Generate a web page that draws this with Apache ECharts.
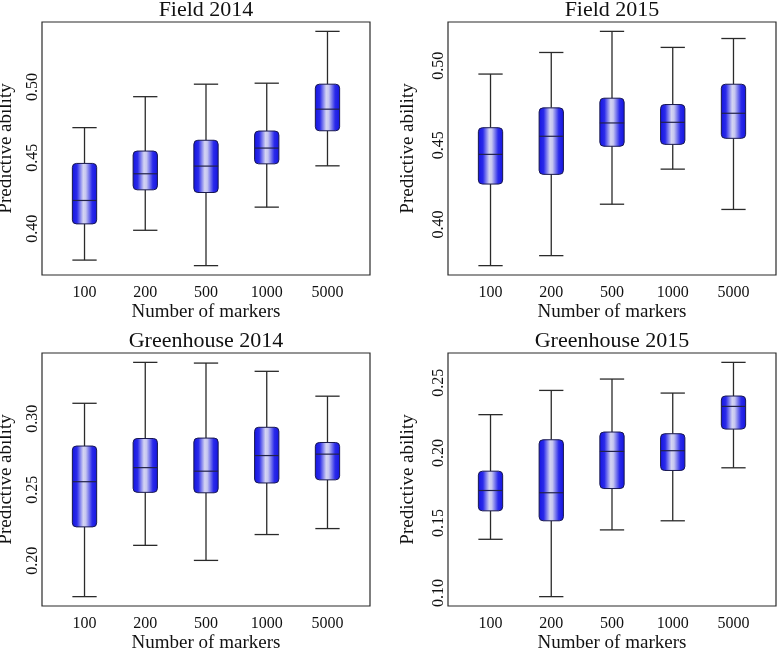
<!DOCTYPE html>
<html><head><meta charset="utf-8">
<script src="https://cdn.jsdelivr.net/npm/echarts@6/dist/echarts.min.js"></script>
<style>html,body{margin:0;padding:0;background:#fff}#c{width:777px;height:649px}</style>
</head><body><div id="c"></div>
<script>
const categories = ['100', '200', '500', '1000', '5000'];
// each row: [lower whisker, Q1, median, Q3, upper whisker]
const field2014 = [
  [0.3780, 0.4035, 0.4200, 0.4461, 0.4713],
  [0.3990, 0.4275, 0.4388, 0.4548, 0.4931],
  [0.3741, 0.4256, 0.4442, 0.4624, 0.5019],
  [0.4153, 0.4458, 0.4569, 0.4689, 0.5026],
  [0.4444, 0.4691, 0.4843, 0.5019, 0.5391]
];
const field2015 = [
  [0.3741, 0.4255, 0.4442, 0.4610, 0.4948],
  [0.3804, 0.4316, 0.4556, 0.4735, 0.5084],
  [0.4128, 0.4493, 0.4640, 0.4796, 0.5217],
  [0.4349, 0.4505, 0.4644, 0.4756, 0.5116],
  [0.4095, 0.4543, 0.4701, 0.4884, 0.5172]
];
const greenhouse2014 = [
  [0.1747, 0.2238, 0.2556, 0.2807, 0.3108],
  [0.2108, 0.2481, 0.2655, 0.2860, 0.3396],
  [0.2002, 0.2478, 0.2630, 0.2863, 0.3391],
  [0.2184, 0.2547, 0.2740, 0.2939, 0.3333],
  [0.2226, 0.2569, 0.2750, 0.2832, 0.3158]
];
const greenhouse2015 = [
  [0.1384, 0.1587, 0.1732, 0.1870, 0.2273],
  [0.0975, 0.1516, 0.1716, 0.2094, 0.2446],
  [0.1451, 0.1746, 0.2011, 0.2149, 0.2527],
  [0.1516, 0.1875, 0.2016, 0.2137, 0.2427],
  [0.1894, 0.2170, 0.2332, 0.2406, 0.2646]
];
const titles = ['Field 2014', 'Field 2015', 'Greenhouse 2014', 'Greenhouse 2015'];
const ticksField2014 = [0.40, 0.45, 0.50];
const ticksField2015 = [0.40, 0.45, 0.50];
const ticksGreenhouse2014 = [0.20, 0.25, 0.30];
const ticksGreenhouse2015 = [0.10, 0.15, 0.20, 0.25];
const xLabel = 'Number of markers';
const yLabel = 'Predictive ability';

const panelData = [field2014, field2015, greenhouse2014, greenhouse2015];
const panelTicks = [ticksField2014, ticksField2015, ticksGreenhouse2014, ticksGreenhouse2015];
const frames = [
  {left: 42, top: 22, nameGap: 26},
  {left: 448, top: 22, nameGap: 30},
  {left: 42, top: 353, nameGap: 26},
  {left: 448, top: 353, nameGap: 30}
];
const W = 328, H = 253;
const FONT = '"Liberation Serif", "Times New Roman", serif';

const chart = echarts.init(document.getElementById('c'), null, {renderer: 'canvas'});

const grad = new echarts.graphic.LinearGradient(0, 0, 1, 0, [
  {offset: 0, color: '#1414e0'},
  {offset: 0.2, color: '#2a2aea'},
  {offset: 0.45, color: '#d4d4f2'},
  {offset: 0.55, color: '#c6c6f0'},
  {offset: 0.8, color: '#2a2aea'},
  {offset: 1, color: '#1414e0'}
]);

function renderBox(params, api) {
  const x = api.value(0);
  const lo = api.coord([x, api.value(1)]);
  const q1 = api.coord([x, api.value(2)]);
  const md = api.coord([x, api.value(3)]);
  const q3 = api.coord([x, api.value(4)]);
  const hi = api.coord([x, api.value(5)]);
  const bw = api.size([0.4, 0], [x, 0])[0];
  const h = bw / 2, cx = md[0];
  const ws = {stroke: '#2a2a2a', lineWidth: 1.3};
  return {type: 'group', children: [
    {type: 'line', shape: {x1: cx, y1: hi[1], x2: cx, y2: q3[1]}, style: ws},
    {type: 'line', shape: {x1: cx, y1: q1[1], x2: cx, y2: lo[1]}, style: ws},
    {type: 'line', shape: {x1: cx - h, y1: hi[1], x2: cx + h, y2: hi[1]}, style: ws},
    {type: 'line', shape: {x1: cx - h, y1: lo[1], x2: cx + h, y2: lo[1]}, style: ws},
    {type: 'rect', shape: {x: cx - h, y: q3[1], width: bw, height: q1[1] - q3[1], r: 4},
      style: {fill: grad, stroke: '#18184e', lineWidth: 1}},
    {type: 'line', shape: {x1: cx - h, y1: md[1], x2: cx + h, y2: md[1]}, style: {stroke: '#22224a', lineWidth: 1.2}}
  ]};
}

const grid = [], xAxis = [], yAxis = [], series = [], graphic = [];
panelData.forEach((rows, i) => {
  const f = frames[i];
  grid.push({left: f.left, top: f.top, width: W, height: H, show: true,
    borderColor: '#2a2a2a', borderWidth: 1.2, backgroundColor: 'transparent',
    containLabel: false, outerBoundsMode: 'none'});
  const lo = Math.min(...rows.map(r => r[0]));
  const hi = Math.max(...rows.map(r => r[4]));
  const pad = (hi - lo) * 0.04;
  xAxis.push({type: 'value', gridIndex: i, min: 0.3, max: 5.7,
    axisLine: {show: false}, axisTick: {show: false}, splitLine: {show: false},
    axisLabel: {customValues: [1, 2, 3, 4, 5], formatter: v => categories[Math.round(v) - 1] || '',
      margin: 10, fontFamily: FONT, fontSize: 16, color: '#111'},
    name: xLabel, nameLocation: 'middle', nameGap: 28, nameMoveOverlap: false,
    nameTextStyle: {fontFamily: FONT, fontSize: 19, color: '#111'}});
  yAxis.push({type: 'value', gridIndex: i, min: lo - pad, max: hi + pad,
    axisLine: {show: false}, axisTick: {show: false}, splitLine: {show: false},
    axisLabel: {customValues: panelTicks[i], formatter: v => v.toFixed(2), rotate: 90,
      margin: 1, fontFamily: FONT, fontSize: 16, color: '#111'},
    name: yLabel, nameLocation: 'middle', nameGap: f.nameGap, nameMoveOverlap: false,
    nameTextStyle: {fontFamily: FONT, fontSize: 19, color: '#111'}});
  series.push({type: 'custom', xAxisIndex: i, yAxisIndex: i, renderItem: renderBox,
    encode: {x: 0, y: [1, 2, 3, 4, 5]},
    data: rows.map((r, k) => [k + 1, ...r])});
  graphic.push({type: 'text', x: f.left + W / 2, y: f.top - 12,
    style: {text: titles[i], textAlign: 'center', textVerticalAlign: 'middle',
      font: '22px ' + FONT, fill: '#111'}});
});

chart.setOption({animation: false, grid, xAxis, yAxis, series, graphic});
</script></body></html>
